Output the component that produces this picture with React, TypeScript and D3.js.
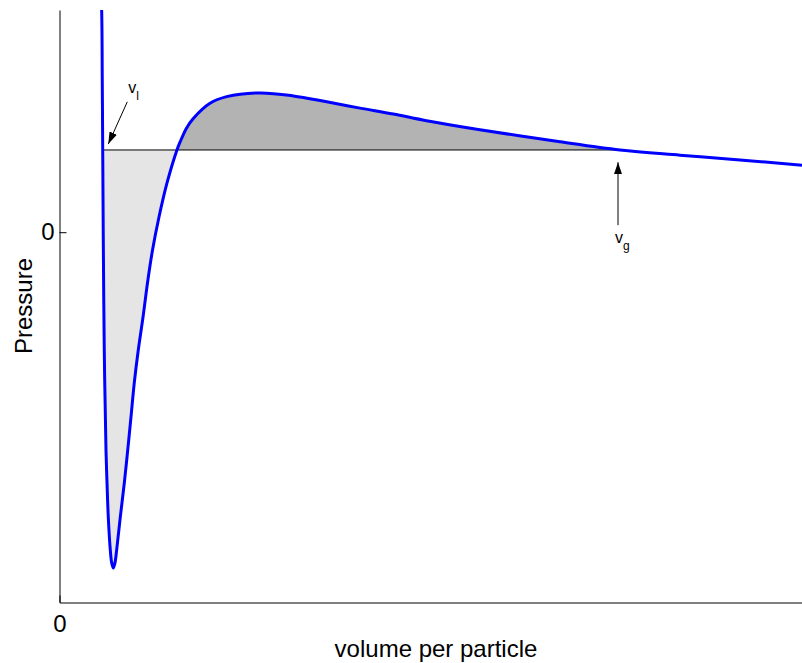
import { useEffect, useRef } from "react";
import * as d3 from "d3";

// isotherm (volume per particle, pressure)
const volume = [0.539, 0.568, 0.576, 0.582, 0.589, 0.603, 0.626, 0.64, 0.657, 0.684, 0.703, 0.725, 0.747, 0.77, 0.819, 0.873, 0.919, 0.963, 1.007, 1.061, 1.125, 1.185, 1.253, 1.34, 1.448, 1.582, 1.623, 1.71, 1.802, 2.027, 2.252, 2.7, 3.149, 3.599, 4.047, 4.496, 4.943, 5.619, 6.741, 7.549, 8.357, 9.165, 10.0];
const pressure = [0.762, 0.6, 0.411, 0.222, 0, -0.318, -0.588, -0.677, -0.769, -0.858, -0.893, -0.907, -0.893, -0.858, -0.769, -0.677, -0.588, -0.499, -0.407, -0.318, -0.229, -0.137, -0.048, 0.041, 0.133, 0.222, 0.243, 0.281, 0.307, 0.348, 0.366, 0.376, 0.368, 0.352, 0.335, 0.319, 0.301, 0.278, 0.244, 0.222, 0.208, 0.195, 0.181];

// maxwell construction
const pSat = 0.222;
const vLiquid = 0.582;
const vCross = 1.582;
const vGas = 7.549;

const xTicks = [0];
const yTicks = [0];

// annotation arrows [tailV, tailP, tipV, tipP]
const liquidArrow = [0.913, 0.352, 0.657, 0.238];
const gasArrow = [7.522, 0.019, 7.522, 0.189];

const W = 802;
const H = 663;
const left = 59.5;
const right = 802;
const top = 10;
const bottom = 602.5;
const font = "'Liberation Sans', Arial, Helvetica, sans-serif";

export default function App() {
  const xAxisRef = useRef<SVGGElement>(null);
  const yAxisRef = useRef<SVGGElement>(null);

  const x = d3.scaleLinear().domain([0, 10]).range([left, right]);
  const y = d3.scaleLinear().domain([-1, 0.6]).range([bottom, top]);

  const pts = volume.map((v, i) => [v, pressure[i]] as [number, number]);

  const line = d3.line<[number, number]>()
    .x((d) => x(d[0]))
    .y((d) => y(d[1]))
    .curve(d3.curveCatmullRom.alpha(0.5));

  const area = d3.area<[number, number]>()
    .x((d) => x(d[0]))
    .y0(y(pSat))
    .y1((d) => y(d[1]))
    .curve(d3.curveCatmullRom.alpha(0.5));

  useEffect(() => {
    const xa = d3.select(xAxisRef.current!);
    xa.selectAll("*").remove();
    xa.call(d3.axisBottom(x).tickValues(xTicks).tickSizeInner(-7).tickSizeOuter(0).tickPadding(12.5).tickFormat(d3.format("d")));
    const ya = d3.select(yAxisRef.current!);
    ya.selectAll("*").remove();
    ya.call(d3.axisLeft(y).tickValues(yTicks).tickSizeInner(-7).tickSizeOuter(0).tickPadding(5).tickFormat(d3.format("d")));
    for (const g of [xa, ya]) {
      g.attr("font-family", null).attr("font-size", null);
      g.selectAll("text").attr("font-size", 24).attr("font-family", font).attr("fill", "#000");
      g.selectAll("path,line").attr("stroke", "#000");
    }
  }, []);

  return (
    <svg width={W} height={H} style={{ position: "absolute", left: 0, top: 0 }}>
      <defs>
        <clipPath id="plot">
          <rect x={left} y={top} width={right - left} height={bottom - top} />
        </clipPath>
        <clipPath id="liq">
          <rect x={x(vLiquid)} y={top} width={x(vCross) - x(vLiquid)} height={bottom - top} />
        </clipPath>
        <clipPath id="gas">
          <rect x={x(vCross)} y={top} width={x(vGas) - x(vCross)} height={bottom - top} />
        </clipPath>
        <marker id="head" viewBox="0 0 12 8" refX="12" refY="4" markerWidth="12" markerHeight="8" markerUnits="userSpaceOnUse" orient="auto">
          <path d="M0,0 L12,4 L0,8 Z" fill="#000" />
        </marker>
      </defs>

      <path d={area(pts)!} fill="#e5e5e5" clipPath="url(#liq)" />
      <path d={area(pts)!} fill="#b3b3b3" clipPath="url(#gas)" />
      <line x1={x(vLiquid)} x2={x(vGas)} y1={y(pSat)} y2={y(pSat)} stroke="#000" strokeWidth={1} />

      <g ref={xAxisRef} transform={`translate(0,${bottom})`} />
      <g ref={yAxisRef} transform={`translate(${left},0)`} />

      <path d={line(pts)!} fill="none" stroke="#0000ff" strokeWidth={3} clipPath="url(#plot)" />

      <line x1={x(liquidArrow[0])} y1={y(liquidArrow[1])} x2={x(liquidArrow[2])} y2={y(liquidArrow[3])} stroke="#000" strokeWidth={1} markerEnd="url(#head)" />
      <line x1={x(gasArrow[0])} y1={y(gasArrow[1])} x2={x(gasArrow[2])} y2={y(gasArrow[3])} stroke="#000" strokeWidth={1} markerEnd="url(#head)" />

      <text x={x(liquidArrow[0]) + 1} y={y(liquidArrow[1]) - 9} fontFamily={font} fontSize={16}>
        v<tspan fontSize={12} dy={7}>l</tspan>
      </text>
      <text x={x(gasArrow[0]) - 3} y={y(gasArrow[1]) + 18} fontFamily={font} fontSize={16}>
        v<tspan fontSize={12} dy={7}>g</tspan>
      </text>

      <text x={436} y={657} textAnchor="middle" fontFamily={font} fontSize={24}>volume per particle</text>
      <text transform={`translate(32,${306}) rotate(-90)`} textAnchor="middle" fontFamily={font} fontSize={24}>Pressure</text>
    </svg>
  );
}
